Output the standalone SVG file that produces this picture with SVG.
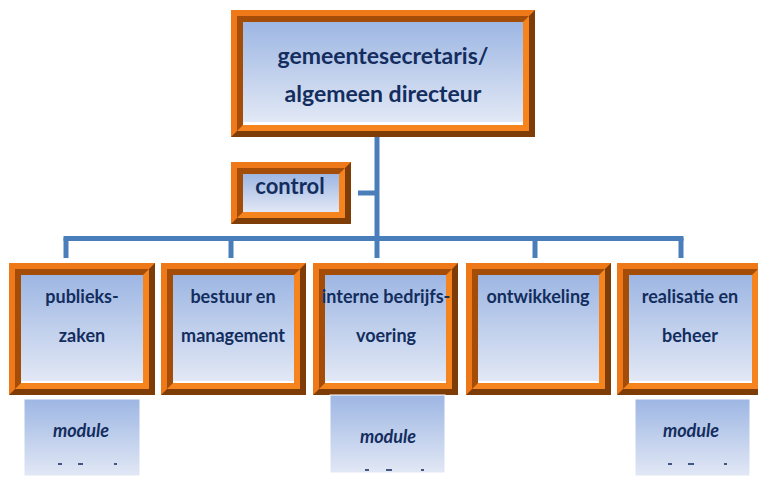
<svg xmlns="http://www.w3.org/2000/svg" width="758" height="494" viewBox="0 0 758 494">
  <defs>
    <linearGradient id="panelFill" x1="0" y1="0" x2="0" y2="1">
      <stop offset="0" stop-color="#9db6e3"/>
      <stop offset="1" stop-color="#e2e8f5"/>
    </linearGradient>
    <style>
      .o-dark { fill: #7e3c06; }
      .o-light { fill: #ef7818; }
      .i-light { fill: #f5841f; }
      .i-dark { fill: #a44d09; }
      .gap { fill: #ffffff; }
      .panel { fill: url(#panelFill); }
      .lbl { font-family: Lato, "Open Sans", "Liberation Sans", sans-serif; font-weight: bold; fill: #132d5e; text-anchor: middle; }
      .big { font-size: 23px; }
      .ctl { font-size: 22px; }
      .mid { font-size: 18px; }
      .mod { font-size: 18px; font-style: italic; }
      .link { fill: none; stroke: #4a7ebb; stroke-width: 5; stroke-linecap: butt; }
      .frag { fill: #1b3566; opacity: 0.8; }
    </style>
  </defs>

  <rect width="758" height="494" fill="#ffffff"/>

  <!-- connectors -->
  <g id="connectors">
    <path class="link" d="M377 137 V258"/>
    <path class="link" d="M358 193 H377"/>
    <path class="link" d="M63.5 238.5 H683.5"/>
    <path class="link" d="M66 238 V258 M231 238 V258 M535 238 V258 M681 238 V258"/>
  </g>

  <!-- top node -->
  <g id="node-directeur">
    <rect class="o-dark" x="231" y="10" width="304" height="127"/>
    <polygon class="o-light" points="231,10 535,10 529,16 237,16 237,131 231,137"/>
    <rect class="i-light" x="237" y="16" width="292" height="115"/>
    <polygon class="i-dark" points="237,16 529,16 523,22 243,22 243,125 237,131"/>
    <rect class="gap" x="243" y="22" width="280" height="103"/>
    <rect class="panel" x="243" y="22" width="280" height="100"/>
    <text class="lbl big" x="383" y="64">gemeentesecretaris/</text>
    <text class="lbl big" x="383" y="102">algemeen directeur</text>
  </g>

  <!-- staff node -->
  <g id="node-control">
    <rect class="o-dark" x="231" y="162" width="120" height="62"/>
    <polygon class="o-light" points="231,162 351,162 345,168 237,168 237,218 231,224"/>
    <rect class="i-light" x="237" y="168" width="108" height="50"/>
    <polygon class="i-dark" points="237,168 345,168 339,174 243,174 243,212 237,218"/>
    <rect class="panel" x="243" y="174" width="96" height="38"/>
    <text class="lbl ctl" x="290" y="194">control</text>
  </g>

  <!-- department nodes -->
  <g id="node-publiekszaken">
    <rect class="o-dark" x="9" y="263" width="146" height="132"/>
    <polygon class="o-light" points="9,263 155,263 149,269 15,269 15,389 9,395"/>
    <rect class="i-light" x="15" y="269" width="134" height="120"/>
    <polygon class="i-dark" points="15,269 149,269 143,275 21,275 21,383 15,389"/>
    <rect class="gap" x="21" y="275" width="122" height="108"/>
    <rect class="panel" x="21" y="275" width="122" height="106"/>
    <text class="lbl mid" x="82" y="303">publieks-</text>
    <text class="lbl mid" x="82" y="342">zaken</text>
  </g>

  <g id="node-bestuur">
    <rect class="o-dark" x="161" y="263" width="145" height="132"/>
    <polygon class="o-light" points="161,263 306,263 300,269 167,269 167,389 161,395"/>
    <rect class="i-light" x="167" y="269" width="133" height="120"/>
    <polygon class="i-dark" points="167,269 300,269 294,275 173,275 173,383 167,389"/>
    <rect class="gap" x="173" y="275" width="121" height="108"/>
    <rect class="panel" x="173" y="275" width="121" height="106"/>
    <text class="lbl mid" x="233" y="303">bestuur en</text>
    <text class="lbl mid" x="233" y="342">management</text>
  </g>

  <g id="node-bedrijfsvoering">
    <rect class="o-dark" x="313" y="263" width="145" height="132"/>
    <polygon class="o-light" points="313,263 458,263 452,269 319,269 319,389 313,395"/>
    <rect class="i-light" x="319" y="269" width="133" height="120"/>
    <polygon class="i-dark" points="319,269 452,269 446,275 325,275 325,383 319,389"/>
    <rect class="gap" x="325" y="275" width="121" height="108"/>
    <rect class="panel" x="325" y="275" width="121" height="106"/>
    <text class="lbl mid" x="386" y="303">interne bedrijfs-</text>
    <text class="lbl mid" x="386" y="342">voering</text>
  </g>

  <g id="node-ontwikkeling">
    <rect class="o-dark" x="466" y="263" width="145" height="132"/>
    <polygon class="o-light" points="466,263 611,263 605,269 472,269 472,389 466,395"/>
    <rect class="i-light" x="472" y="269" width="133" height="120"/>
    <polygon class="i-dark" points="472,269 605,269 599,275 478,275 478,383 472,389"/>
    <rect class="gap" x="478" y="275" width="121" height="108"/>
    <rect class="panel" x="478" y="275" width="121" height="106"/>
    <text class="lbl mid" x="538" y="303">ontwikkeling</text>
  </g>

  <g id="node-realisatie">
    <rect class="o-dark" x="617" y="263" width="147" height="132"/>
    <polygon class="o-light" points="617,263 764,263 758,269 623,269 623,389 617,395"/>
    <rect class="i-light" x="623" y="269" width="135" height="120"/>
    <polygon class="i-dark" points="623,269 758,269 752,275 629,275 629,383 623,389"/>
    <rect class="gap" x="629" y="275" width="123" height="108"/>
    <rect class="panel" x="629" y="275" width="123" height="106"/>
    <text class="lbl mid" x="690" y="303">realisatie en</text>
    <text class="lbl mid" x="690" y="342">beheer</text>
  </g>

  <!-- module boxes under departments -->
  <g id="module-1">
    <rect class="panel" x="24" y="399" width="116" height="77" stroke="#ffffff" stroke-width="1"/>
    <text class="lbl mod" x="81" y="437">module</text>
    <rect class="frag" x="58" y="463" width="4" height="2"/>
    <rect class="frag" x="78" y="463" width="5" height="2"/>
    <rect class="frag" x="114" y="463" width="3" height="2"/>
  </g>

  <g id="module-3">
    <rect class="panel" x="330" y="395" width="115" height="78" stroke="#ffffff" stroke-width="1"/>
    <text class="lbl mod" x="388" y="443">module</text>
    <rect class="frag" x="365" y="469" width="4" height="2"/>
    <rect class="frag" x="386" y="469" width="6" height="2"/>
    <rect class="frag" x="421" y="469" width="3" height="2"/>
  </g>

  <g id="module-5">
    <rect class="panel" x="635" y="399" width="115" height="77" stroke="#ffffff" stroke-width="1"/>
    <text class="lbl mod" x="691" y="437">module</text>
    <rect class="frag" x="668" y="463" width="4" height="2"/>
    <rect class="frag" x="688" y="463" width="6" height="2"/>
    <rect class="frag" x="724" y="463" width="3" height="2"/>
  </g>
</svg>
